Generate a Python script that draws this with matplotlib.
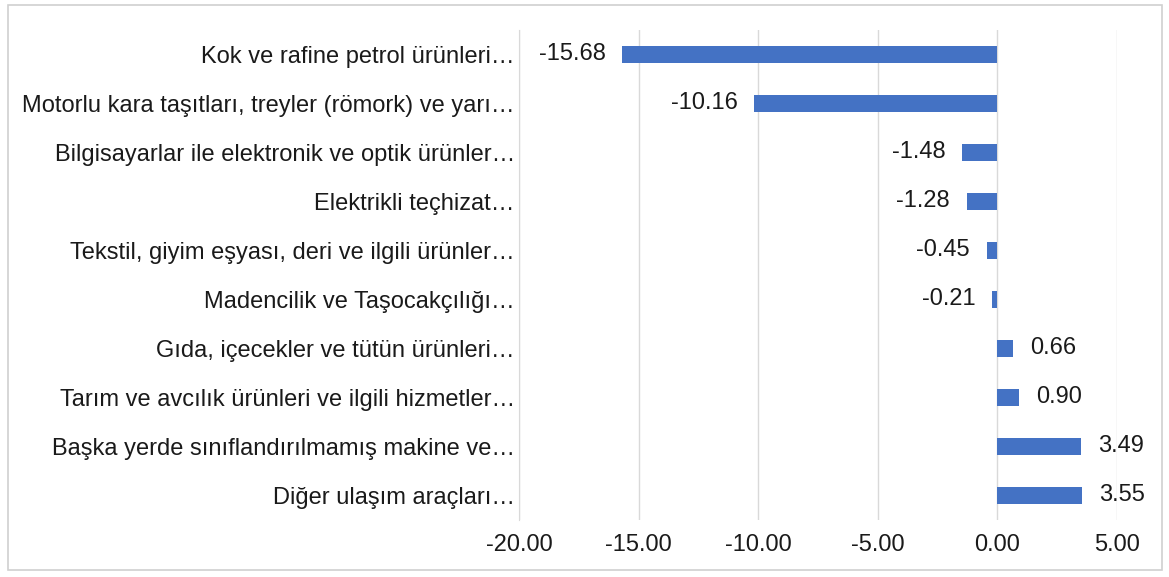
import matplotlib.pyplot as plt
from matplotlib.patches import Rectangle

# kategoriler (yukaridan asagiya)
categories = [
    'Kok ve rafine petrol ürünleri…',
    'Motorlu kara taşıtları, treyler (römork) ve yarı…',
    'Bilgisayarlar ile elektronik ve optik ürünler…',
    'Elektrikli teçhizat…',
    'Tekstil, giyim eşyası, deri ve ilgili ürünler…',
    'Madencilik ve Taşocakçılığı…',
    'Gıda, içecekler ve tütün ürünleri…',
    'Tarım ve avcılık ürünleri ve ilgili hizmetler…',
    'Başka yerde sınıflandırılmamış makine ve…',
    'Diğer ulaşım araçları…',
]
values = [-15.68, -10.16, -1.48, -1.28, -0.45, -0.21, 0.66, 0.90, 3.49, 3.55]
x_ticks = [-20, -15, -10, -5, 0, 5]

plt.rcParams['font.family'] = ['Liberation Sans', 'DejaVu Sans']
fs = 17

fig = plt.figure(figsize=(11.69, 5.77), dpi=100)
ax = fig.add_axes([0.444, 0.099, 0.5115, 0.849])

# grafik cercevesi
fig.patches.append(Rectangle((0.007, 0.012), 0.987, 0.98, transform=fig.transFigure,
                             fill=False, edgecolor='#d0d0d0', linewidth=1.2))

y = list(range(len(categories)))
ax.barh(y, values, height=0.35, color='#4472C4', zorder=3)

# deger etiketleri
for yi, v in zip(y, values):
    if v < 0:
        ax.text(v - 0.7, yi, f'{v:.2f}', ha='right', va='center', fontsize=fs, color='#1a1a1a')
    else:
        ax.text(v + 0.7, yi, f'{v:.2f}', ha='left', va='center', fontsize=fs, color='#1a1a1a')

ax.set_yticks(y)
ax.set_yticklabels(categories, fontsize=fs, color='#1a1a1a')
ax.set_ylim(len(categories) - 0.5, -0.5)
ax.set_xlim(-20, 5)
ax.set_xticks(x_ticks)
ax.set_xticklabels([f'{t:.2f}' for t in x_ticks], fontsize=fs, color='#1a1a1a')
ax.tick_params(axis='y', length=0, pad=3)
ax.tick_params(axis='x', length=0, pad=10)

ax.grid(axis='x', color='#d9d9d9', linewidth=1, zorder=0)
for s in ['top', 'right', 'bottom']:
    ax.spines[s].set_visible(False)
ax.spines['left'].set_color('#d9d9d9')

fig.savefig('out.png', dpi=100)
